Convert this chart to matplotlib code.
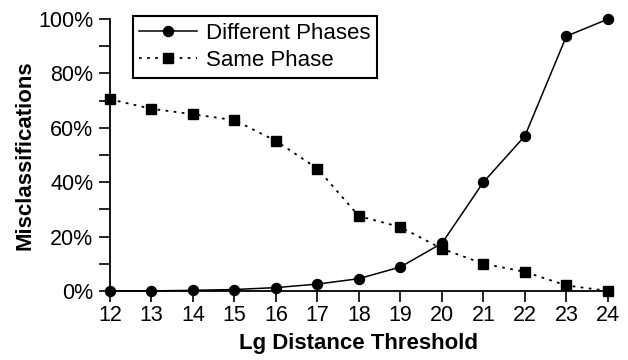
import matplotlib.pyplot as plt
from matplotlib.ticker import MultipleLocator, PercentFormatter

plt.rcParams['font.family'] = ['Liberation Sans', 'DejaVu Sans']

# Misclassification rates (%) by lg distance threshold
thresholds = [12, 13, 14, 15, 16, 17, 18, 19, 20, 21, 22, 23, 24]
different_phases = [0, 0, 0.2, 0.5, 1.2, 2.5, 4.5, 8.8, 17.5, 40, 57, 93.7, 100]
same_phase = [70.5, 67, 65, 62.8, 55.2, 45, 27.5, 23.5, 15.5, 10, 7, 2, 0]

fig = plt.figure(figsize=(6.28, 3.6), dpi=100)
ax = fig.add_axes([0.175, 0.192, 0.793, 0.755])

ax.plot(thresholds, different_phases, '-', color='black', lw=1.1,
        marker='o', markersize=7.2, clip_on=False, label='Different Phases', zorder=3)
ax.plot(thresholds, same_phase, linestyle=(0, (1.5, 3)), color='black', lw=1.3,
        marker='s', markersize=6.8, clip_on=False, label='Same Phase', zorder=3)

ax.set_xlim(12, 24)
ax.set_ylim(0, 100)
ax.set_xticks(thresholds)
ax.yaxis.set_major_locator(MultipleLocator(20))
ax.yaxis.set_minor_locator(MultipleLocator(10))
ax.yaxis.set_major_formatter(PercentFormatter(decimals=0))

for side in ['top', 'right']:
    ax.spines[side].set_visible(False)
for side in ['left', 'bottom']:
    ax.spines[side].set_linewidth(1.3)

ax.tick_params(axis='both', which='major', labelsize=15.5, length=8, width=1.2, direction='out')
ax.tick_params(axis='y', which='minor', length=8, width=1.2)
ax.tick_params(axis='x', pad=2)
ax.tick_params(axis='y', pad=4)

ax.set_xlabel('Lg Distance Threshold', fontsize=16, fontweight='bold', labelpad=5)
ax.set_ylabel('Misclassifications', fontsize=16, fontweight='bold', labelpad=2)

leg = ax.legend(loc='upper left', bbox_to_anchor=(0.046, 1.011), fontsize=16,
                frameon=True, fancybox=False, edgecolor='black', framealpha=1,
                handlelength=2.6, borderpad=0.3, labelspacing=0.28,
                handletextpad=0.4, borderaxespad=0)
leg.get_frame().set_linewidth(1.5)

fig.savefig('out.png', dpi=100)
